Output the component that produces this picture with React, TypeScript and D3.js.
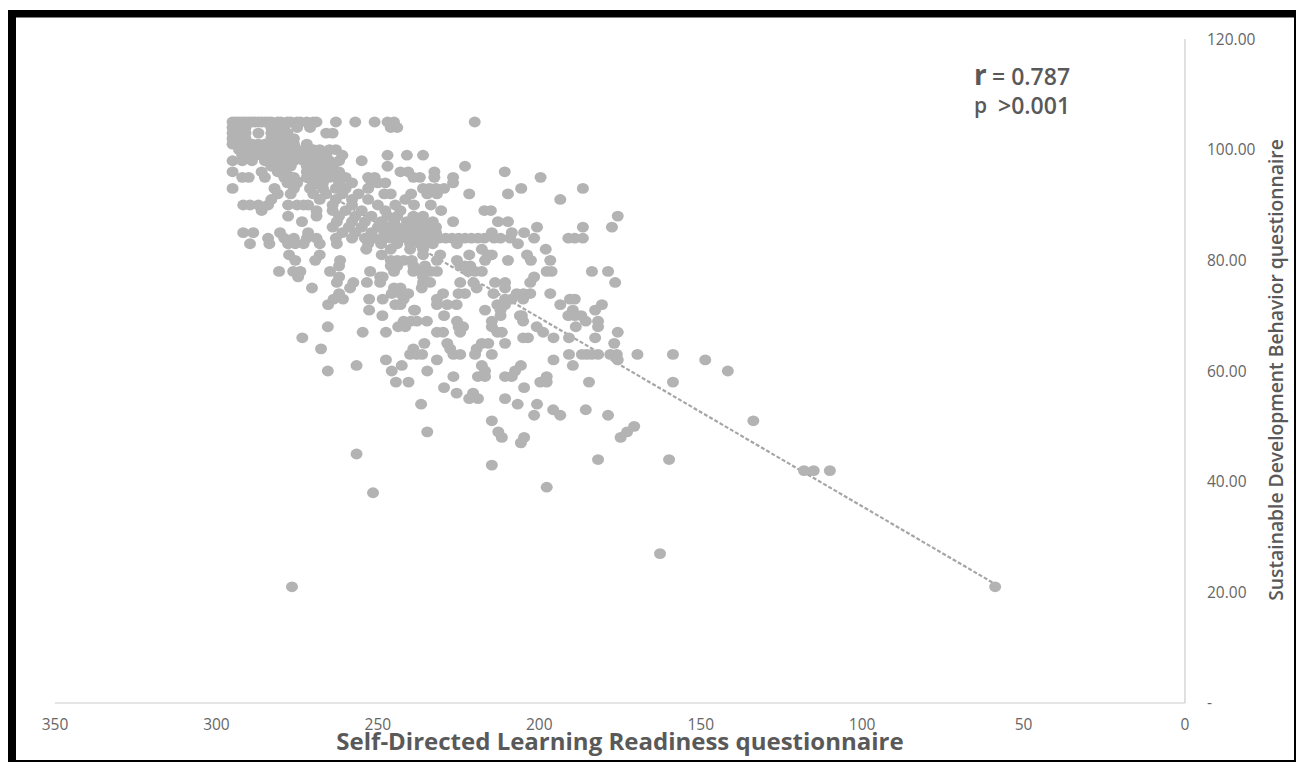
import React from 'react';
import * as d3 from 'd3';

const xTicks = [350, 300, 250, 200, 150, 100, 50, 0];
const yTicks = [120, 100, 80, 60, 40, 20];
const xTitle = 'Self-Directed Learning Readiness questionnaire';
const yTitle = 'Sustainable Development Behavior questionnaire';
const trendX = [295, 58.8];
const trendY = [102, 21.5];

const sdbLevels = [105,104,103,102,101,100,99,98,97,96,95,94,93,92,91,90,89,88,87,86,85,84,83,82,81,80,79,78,77,76,75,74,73,72,71,70,69,68,67,66,65,64,63,62,61,60,59,58,57,56,55,54,53,52,51,50,49,48,47,45,44,43,42,39,38,27,21];
const sdlrByLevel = [
/*105*/[295,294,293,292,291,290,289,288,287,286,285,284,283,281,280,278,277,275,274,272,270,269,263,257,251,247,245,220],
/*104*/[295,293,291,283,281,279,275,271,246,244],
/*103*/[295,293,291,287,283,281,278,266,264],
/*102*/[295,293,291,283,281,279,276],
/*101*/[295,293,291,289,287,285,283,281,279,276,272],
/*100*/[293,291,289,287,285,283,281,279,277,275,272,270,268,265,263],
/*99*/[292,290,288,286,283,280,278,275,272,270,268,266,261,247,241,236],
/*98*/[295,292,289,285,283,281,279,276,273,271,269,267,265,262,255],
/*97*/[283,280,277,272,270,268,266,264,247,223],
/*96*/[295,286,281,279,272,270,268,266,264,262,243,240.6,232.5,210.7],
/*95*/[292,290,285,279,276,272,270,268,265,263,260,253,251,239,237,232.5,226.7,199.6],
/*94*/[278,275,270,267,262,258,252,250,247.7,226.7],
/*93*/[295,282,276,271,267,263,260,253,236,234,232,229.5,205.6,186.5],
/*92*/[281,277,270,266,261,256,248,246,239.7,234.7,231.7,221.7,209.7],
/*91*/[283,268,263,258,253,241.5,193.5],
/*90*/[291.7,289.6,287,284,277.8,275,273,271.6,264,258,250,244.6,238.8,233.6],
/*89*/[286,269,264,260,255,247.7,243,230.4,217,215],
/*88*/[277.8,269,262,257,252,247,244,239,236,175.7],
/*87*/[273.5,262.7,258,254,249,245,241,239,236,233,226.7,212.8,209.7],
/*86*/[264,259,255,250,247,244,241,238,235,232,200.7,186.5,177.5],
/*85*/[291.7,288.6,280.3,271.6,261,257,252,248,245,243,240,237,234,232,214.7,208.5,204.7],
/*84*/[284,279,276,272,269,263,258,254,251,248,246,243,241,238,236,235,233,231,229,227,225,223,221,219,217,214,212,209,201.6,191,189,186.5],
/*83*/[289.6,283.6,277.8,275.6,273,268,262.7,253,249,244,240,237,235,233,225.5,206.6],
/*82*/[253.6,246,240,236,217.8,198],
/*81*/[277.5,268,248.8,236,230.7,221.7,216,214.7,203.8],
/*80*/[275.6,269.4,261.7,246,244,242,239.5,231.7,225.5,216.8,209.7,202.6,196.6],
/*79*/[262,246,244,239,235.4,224.5,223,221.4],
/*78*/[280.6,276.2,274,264.8,252.4,245,239,236.4,233.7,231.7,222,219.9,217.8,197.7,196.2,183.7,178.7],
/*77*/[274.7,262,249.3,248.5,236,201.6],
/*76*/[262.7,257.6,253.4,249.3,236,233.8,224.5,220.4,213.7,210.6,202.8,176.5],
/*75*/[270.4,258.6,245,243,236.4,219.4,210.6],
/*74*/[262,245.7,243,240.6,229.8,225,223,214.2,207,204.9,202.8,196.6],
/*73*/[263.7,260.8,252.7,248.5,242,231.7,210.6,208.5,205,190.5,189],
/*72*/[265.4,244.6,243,231.7,228.5,225.6,213,210.6,193.5,180.6],
/*71*/[252.7,238.8,238.5,216.8,212,189.6,182.7],
/*70*/[248.6,229.5,212,206,205.4,191,189,187],
/*69*/[242,239.8,237.9,234.8,225.5,214.7,205,185.6,181.8],
/*68*/[265.5,243.7,241.5,225,223.6,214.7,200.8,188.7,181.8],
/*67*/[254.7,247.5,231.7,229.8,224.5,213,211.6,198.8,175.7],
/*66*/[273.4,205,203.5,195.6,190.8,182.7],
/*65*/[235.6,228.5,217.8,215.8,210.6,176.8],
/*64*/[267.6,239,227.6,219.4],
/*63*/[240,238,236.3,226.6,224.5,219.9,214.7,190.8,186.8,185.3,183.7,181.8,178,176,169.6,158.6],
/*62*/[247.5,231.7,195.6,175.7,148.6],
/*61*/[256.6,242.6,217.8,205.7,189.6],
/*60*/[265.5,245.7,234.7,216.8,207.5,141.6],
/*59*/[226.6,219,216.8,210.6,208.5,197.7],
/*58*/[244.4,240.5,199.7,197.7,184.6,158.6],
/*57*/[229.5,204.7],
/*56*/[225.6,220.5],
/*55*/[221.7,219,210.6],
/*54*/[236.6,206.7,200.7],
/*53*/[195.7,185.6],
/*52*/[201.6,193.5,178.7],
/*51*/[214.7,133.7],
/*50*/[170.6],
/*49*/[234.7,212.7,172.8],
/*48*/[211.6,204.7,174.8],
/*47*/[205.7],
/*45*/[256.6],
/*44*/[181.8,159.8],
/*43*/[214.7],
/*42*/[118,115,110],
/*39*/[197.7],
/*38*/[251.5],
/*27*/[162.6],
/*21*/[276.6,58.8],
];

const WIDTH = 1296;
const HEIGHT = 762;
const FONT = '"Open Sans", "Noto Sans", sans-serif';
const TEXT = '#595959';
const DOT = '#b3b3b3';

export default function App() {
  const x = d3.scaleLinear().domain([350, 0]).range([55, 1185]);
  const y = d3.scaleLinear().domain([0, 120]).range([703, 39]);
  const points = sdbLevels.flatMap((v, i) => sdlrByLevel[i].map(s => ({ s, v })));
  const trend = d3.line<number>().x(d => x(d)).y((_, i) => y(trendY[i]))(trendX) ?? '';

  return (
    <svg width={WIDTH} height={HEIGHT} style={{ position: 'absolute', left: 0, top: 0, display: 'block' }} fontFamily={FONT}>
      <rect width={WIDTH} height={HEIGHT} fill="#ffffff" />
      <rect x={8} y={10} width={1288} height={752} fill="#000000" />
      <rect x={16} y={17.5} width={1278} height={742.5} fill="#ffffff" />
      <line x1={x(350)} x2={x(0)} y1={y(0)} y2={y(0)} stroke="#cccccc" strokeWidth={1.2} />
      <line x1={x(0)} x2={x(0)} y1={y(120)} y2={y(0)} stroke="#cccccc" strokeWidth={1.2} />
      <path d={trend} fill="none" stroke="#a6a6a6" strokeWidth={2.2} strokeDasharray="4 2" />
      {points.map((p, i) => (
        <ellipse key={i} cx={x(p.s)} cy={y(p.v)} rx={6} ry={5.4} fill={DOT} />
      ))}
      {xTicks.map(t => (
        <text key={t} x={x(t)} y={730} textAnchor="middle" fontSize={15.5} fill="#666666">{t}</text>
      ))}
      {yTicks.map(t => (
        <text key={t} x={1207} y={y(t) + 5.5} fontSize={15.5} fill="#666666">{d3.format('.2f')(t)}</text>
      ))}
      <text x={1207} y={708} fontSize={15.5} fill="#666666">-</text>
      <text x={620} y={750} textAnchor="middle" fontSize={24} fontWeight={700} fill={TEXT}>{xTitle}</text>
      <text transform="translate(1283,370) rotate(-90)" textAnchor="middle" fontSize={19.3} fontWeight={600} fill={TEXT}>{yTitle}</text>
      <text x={974} y={85} fontSize={28} fontWeight={700} fill={TEXT}>r</text>
      <text x={992} y={84.5} fontSize={23} fontWeight={600} fill={TEXT}>= 0.787</text>
      <text x={974} y={113} fontSize={21} fontWeight={600} fill={TEXT}>p</text>
      <text x={998} y={113.5} fontSize={23} fontWeight={600} fill={TEXT}>&gt;0.001</text>
    </svg>
  );
}
